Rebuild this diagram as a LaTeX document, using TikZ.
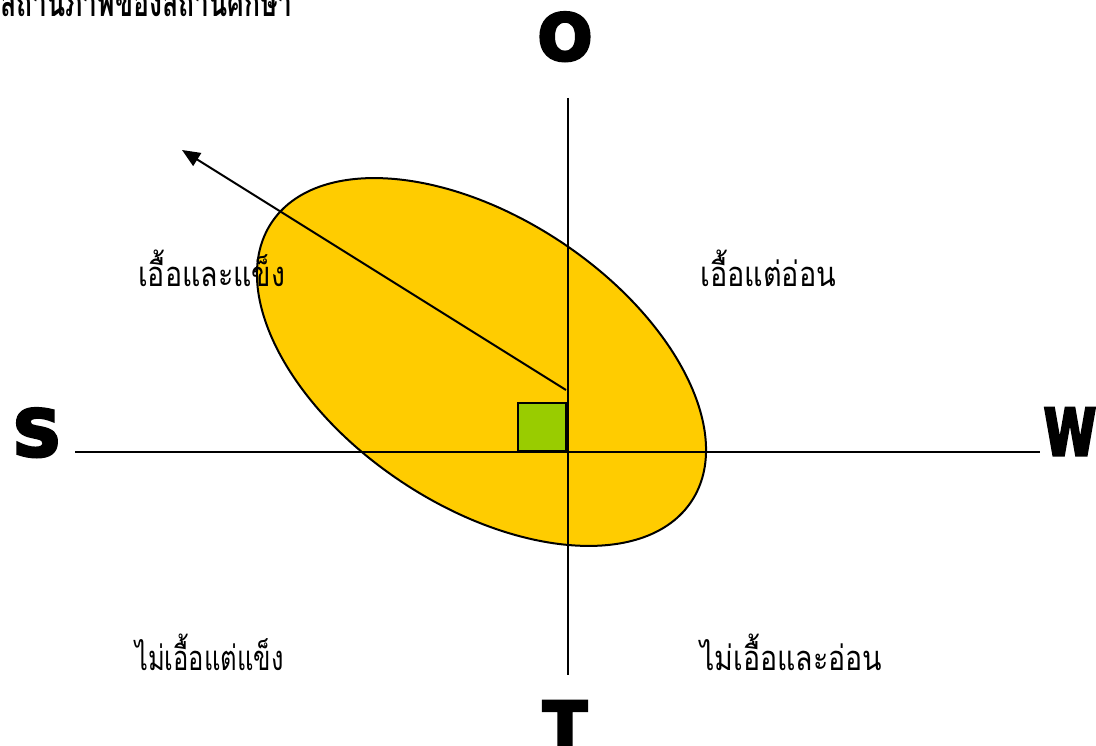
\documentclass[tikz,border=0pt]{standalone}
\usepackage{fontspec}
\usetikzlibrary{arrows.meta}
\newfontfamily\thaifont[Script=Thai]{Loma}
\newfontfamily\heavyfont[FakeBold=5]{DejaVu Sans Bold}
\definecolor{ellyellow}{HTML}{FFCC00}
\definecolor{boxgreen}{HTML}{99CC00}
\tikzset{
  axisline/.style={line width=2pt},
  bigletter/.style={font=\heavyfont\fontsize{64}{64}\selectfont, inner sep=0pt, anchor=base},
  quadlabel/.style={font=\thaifont\fontsize{30}{30}\selectfont, inner sep=0pt, anchor=base west},
  titlelabel/.style={font=\thaifont\bfseries\fontsize{26}{26}\selectfont, inner sep=0pt, anchor=base west}
}
\begin{document}
\begin{tikzpicture}[x=1pt,y=1pt]
\useasboundingbox (0,0) rectangle (1096,745);
% ellipse
\fill[ellyellow, draw=black, line width=2pt, rotate around={-33.6:(481.5,383)}] (481.5,383) ellipse [x radius=252, y radius=144];
% axes
\coordinate (hl) at (75,293);
\coordinate (hr) at (1040,293);
\coordinate (vt) at (568,647);
\coordinate (vb) at (568,70);
\draw[axisline] (hl) -- (hr);
\draw[axisline] (vt) -- (vb);
% square
\node[draw, line width=2pt, fill=boxgreen, minimum width=48pt, minimum height=48pt, inner sep=0pt, anchor=south west] (sq) at (517,293) {};
% arrow
\coordinate (astart) at (566,355);
\coordinate (aend) at (182,595);
\draw[line width=2pt, -{Triangle[length=18pt,width=15pt]}] (astart) -- (aend);
% axis letters
\node[bigletter] (O) at (565,685) {O};
\node[bigletter] (S) at (37,289) {\scalebox{1.05}[1]{S}};
\node[bigletter] (W) at (1070,290) {\scalebox{0.74}[1]{W}};
\node[bigletter] (T) at (565,-3) {T};
% labels
\node[quadlabel] (q1) at (138,458) {\scalebox{0.95}[1.15]{เอื้อและแข็ง}};
\node[quadlabel] (q2) at (700,458) {\scalebox{0.96}[1.15]{เอื้อแต่อ่อน}};
\node[quadlabel] (q3) at (135,74) {\scalebox{0.85}[1.15]{ไม่เอื้อแต่แข็ง}};
\node[quadlabel] (q4) at (700,74) {\scalebox{0.95}[1.15]{ไม่เอื้อและอ่อน}};
\node[titlelabel] (title) at (0,728) {\scalebox{1.02}[1.5]{สถานภาพของสถานศึกษา}};
\end{tikzpicture}
\end{document}
